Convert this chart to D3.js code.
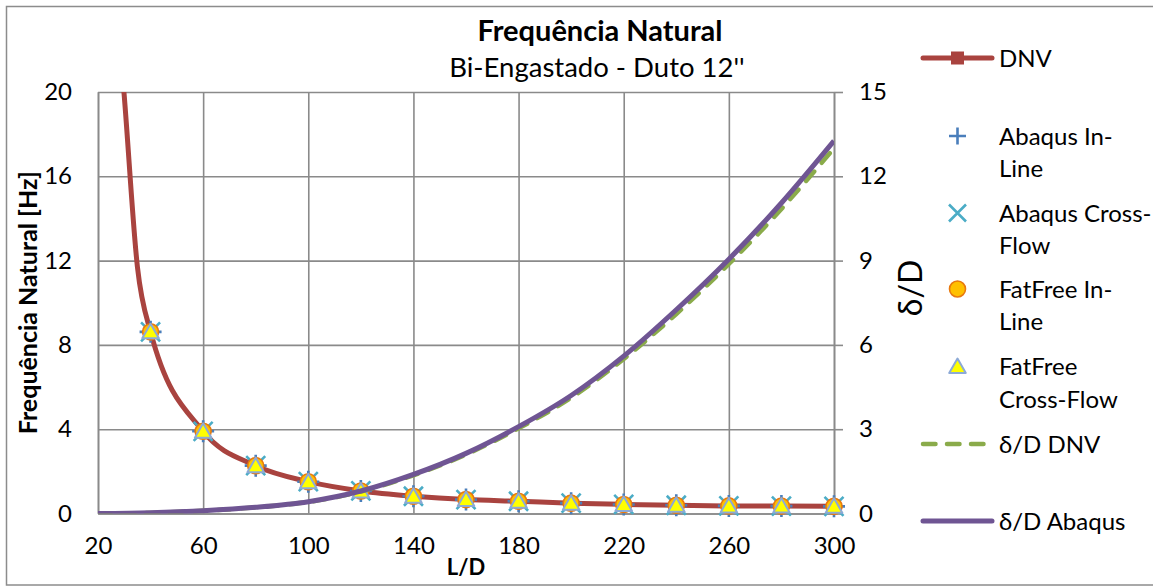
<!DOCTYPE html>
<html>
<head>
<meta charset="utf-8">
<script src="https://cdn.jsdelivr.net/npm/d3@7"></script>
<style>
  body { margin: 0; background: #fff; }
  svg { display: block; }
  text { font-family: Lato, "Open Sans", sans-serif; fill: #000; }
</style>
</head>
<body>
<svg id="chart" width="1153" height="586"></svg>
<script>
// DNV natural frequency curve [Hz] against L/D
const ldDNV = [20, 30, 35, 40, 60, 80, 100, 120, 140, 160, 180, 200, 220, 240, 260, 280, 300];
const dnvFreq = [34.0, 19.8, 11.7, 8.62, 3.90, 2.27, 1.51, 1.07, 0.82, 0.66, 0.58, 0.49, 0.43, 0.39, 0.36, 0.35, 0.34];

// δ/D curves (secondary axis) against L/D
const ldDelta = [20, 40, 60, 80, 100, 120, 140, 160, 180, 200, 220, 240, 260, 280, 300];
const deltaDNV    = [0, 0.02, 0.10, 0.22, 0.41, 0.78, 1.36, 2.10, 3.03, 4.12, 5.50, 7.10, 8.88, 10.84, 13.00];
const deltaAbaqus = [0, 0.03, 0.10, 0.22, 0.42, 0.80, 1.39, 2.14, 3.09, 4.20, 5.60, 7.25, 9.05, 11.05, 13.26];

// point series
const ldPoints = [40, 60, 80, 100, 120, 140, 160, 180, 200, 220, 240, 260, 280, 300];
const abaqusInLine     = [8.62, 3.90, 2.27, 1.51, 1.07, 0.82, 0.66, 0.58, 0.49, 0.43, 0.39, 0.36, 0.35, 0.34];
const abaqusCrossFlow  = [8.62, 3.90, 2.27, 1.51, 1.07, 0.82, 0.66, 0.58, 0.49, 0.43, 0.39, 0.36, 0.35, 0.34];
const fatfreeInLine    = [8.62, 3.90, 2.27, 1.51, 1.07, 0.82, 0.66, 0.58, 0.49, 0.43, 0.39, 0.36, 0.35, 0.34];
const fatfreeCrossFlow = [8.62, 3.90, 2.27, 1.51, 1.07, 0.82, 0.66, 0.58, 0.49, 0.43, 0.39, 0.36, 0.35, 0.34];
// DNV markers sit at the same L/D as the point series
const dnvMarkers = [8.62, 3.90, 2.27, 1.51, 1.07, 0.82, 0.66, 0.58, 0.49, 0.43, 0.39, 0.36, 0.35, 0.34];

// axis ticks
const xTicks = [20, 60, 100, 140, 180, 220, 260, 300];
const freqTicks = [0, 4, 8, 12, 16, 20];
const deltaTicks = [0, 3, 6, 9, 12, 15];

// texts
const titleText = "Frequência Natural";
const subtitleText = "Bi-Engastado - Duto 12''";
const xTitle = "L/D";
const yLeftTitle = "Frequência Natural [Hz]";
const yRightTitle = "δ/D";

const svg = d3.select("#chart");
const W = 1153, H = 586;
const plot = { left: 98, right: 834, top: 92, bottom: 513.5 };
const gridColor = "#8a8a8a";

const x = d3.scaleLinear().domain([20, 300]).range([plot.left, plot.right]);
const yL = d3.scaleLinear().domain([0, 20]).range([plot.bottom, plot.top]);
const yR = d3.scaleLinear().domain([0, 15]).range([plot.bottom, plot.top]);

svg.append("rect").attr("width", W).attr("height", H).attr("fill", "#fff");
// chart frame
svg.append("rect")
  .attr("x", 6.5).attr("y", 6.5).attr("width", W).attr("height", 578.5)
  .attr("fill", "none").attr("stroke", "#8c8c8c").attr("stroke-width", 1.5);

svg.append("defs").append("clipPath").attr("id", "plotClip")
  .append("rect")
  .attr("x", plot.left).attr("y", plot.top)
  .attr("width", plot.right - plot.left).attr("height", plot.bottom - plot.top);

const tickFont = 24;

// left axis with horizontal gridlines
const gLeft = svg.append("g").attr("transform", `translate(${plot.left},0)`)
  .call(d3.axisLeft(yL).tickValues(freqTicks).tickSize(-(plot.right - plot.left)).tickSizeOuter(0).tickPadding(26));
// bottom axis with vertical gridlines
const gBottom = svg.append("g").attr("transform", `translate(0,${plot.bottom})`)
  .call(d3.axisBottom(x).tickValues(xTicks).tickSize(-(plot.bottom - plot.top)).tickSizeOuter(0).tickPadding(23));
// right axis
const gRight = svg.append("g").attr("transform", `translate(${plot.right},0)`)
  .call(d3.axisRight(yR).tickValues(deltaTicks).tickSize(9).tickSizeOuter(0).tickPadding(16));

[gLeft, gBottom, gRight].forEach(g => {
  g.selectAll("line").attr("stroke", gridColor).attr("stroke-width", 1.6);
  g.select(".domain").attr("stroke", gridColor).attr("stroke-width", 1.6);
  g.selectAll("text").attr("font-size", tickFont).attr("font-family", "Lato, sans-serif").attr("fill", "#000");
});

// curves
const lineFreq = d3.line().x(d => x(d[0])).y(d => yL(d[1])).curve(d3.curveMonotoneX);
const lineDelta = d3.line().x(d => x(d[0])).y(d => yR(d[1])).curve(d3.curveMonotoneX);

const red = "#A9433F", purple = "#6F5593", green = "#8AAB4A";
const plusColor = "#4A7EBB", xColor = "#4BACC6";
const circFill = "#FFC000", circStroke = "#E8790F";
const triFill = "#FFFF00", triStroke = "#8DAAD6";

svg.append("g").attr("clip-path", "url(#plotClip)")
  .append("path")
  .datum(ldDNV.map((l, i) => [l, dnvFreq[i]]))
  .attr("d", lineFreq)
  .attr("fill", "none").attr("stroke", red).attr("stroke-width", 5).attr("stroke-linejoin", "round");

// marker shapes
function drawSquare(g, cx, cy) {
  const s = 6;
  g.append("rect").attr("x", cx - s).attr("y", cy - s).attr("width", 2 * s).attr("height", 2 * s)
    .attr("fill", red).attr("stroke", red).attr("stroke-width", 1);
}
function drawPlus(g, cx, cy, s) {
  g.append("path").attr("d", `M${cx - s},${cy}H${cx + s}M${cx},${cy - s}V${cy + s}`)
    .attr("stroke", plusColor).attr("stroke-width", 2.6).attr("fill", "none");
}
function drawX(g, cx, cy, s) {
  g.append("path").attr("d", `M${cx - s},${cy - s}L${cx + s},${cy + s}M${cx - s},${cy + s}L${cx + s},${cy - s}`)
    .attr("stroke", xColor).attr("stroke-width", 2.6).attr("fill", "none");
}
function drawCircle(g, cx, cy) {
  g.append("circle").attr("cx", cx).attr("cy", cy).attr("r", 8)
    .attr("fill", circFill).attr("stroke", circStroke).attr("stroke-width", 1.6);
}
function drawTriangle(g, cx, cy) {
  g.append("path").attr("d", `M${cx},${cy - 8}L${cx + 8.3},${cy + 6.5}L${cx - 8.3},${cy + 6.5}Z`)
    .attr("fill", triFill).attr("stroke", triStroke).attr("stroke-width", 2).attr("stroke-linejoin", "round");
}

const mG = svg.append("g");
ldPoints.forEach((l, i) => drawSquare(mG, x(l), yL(dnvMarkers[i])));
ldPoints.forEach((l, i) => drawPlus(mG, x(l), yL(abaqusInLine[i]), 11));
ldPoints.forEach((l, i) => drawX(mG, x(l), yL(abaqusCrossFlow[i]), 9.5));
ldPoints.forEach((l, i) => drawCircle(mG, x(l), yL(fatfreeInLine[i])));
ldPoints.forEach((l, i) => drawTriangle(mG, x(l), yL(fatfreeCrossFlow[i])));

// secondary axis curves
const clipG2 = svg.append("g").attr("clip-path", "url(#plotClip)");
clipG2.append("path")
  .datum(ldDelta.map((l, i) => [l, deltaDNV[i]]))
  .attr("d", lineDelta)
  .attr("fill", "none").attr("stroke", green).attr("stroke-width", 4.5)
  .attr("stroke-dasharray", "12.5,11.5").attr("stroke-linecap", "round");
clipG2.append("path")
  .datum(ldDelta.map((l, i) => [l, deltaAbaqus[i]]))
  .attr("d", lineDelta)
  .attr("fill", "none").attr("stroke", purple).attr("stroke-width", 5);

// titles
svg.append("text").attr("x", 600).attr("y", 41).attr("text-anchor", "middle")
  .attr("font-size", 29).attr("font-weight", "bold").text(titleText);
svg.append("text").attr("x", 597).attr("y", 77).attr("text-anchor", "middle")
  .attr("font-size", 27.5).text(subtitleText);
svg.append("text").attr("x", (plot.left + plot.right) / 2).attr("y", 575).attr("text-anchor", "middle")
  .attr("font-size", 22).attr("font-weight", "bold").text(xTitle);
svg.append("text").attr("transform", `translate(37,${(plot.top + plot.bottom) / 2}) rotate(-90)`)
  .attr("text-anchor", "middle").attr("font-size", 25).attr("font-weight", "bold").text(yLeftTitle);
svg.append("text").attr("transform", `translate(922,288) rotate(-90)`)
  .attr("text-anchor", "middle").attr("font-size", 32).text(yRightTitle);

// legend
const legend = [
  { lines: ["DNV"], y: 58, kind: "dnv" },
  { lines: ["Abaqus In-", "Line"], y: 136, kind: "plus" },
  { lines: ["Abaqus Cross-", "Flow"], y: 213, kind: "x" },
  { lines: ["FatFree In-", "Line"], y: 289, kind: "circle" },
  { lines: ["FatFree", "Cross-Flow"], y: 366.5, kind: "triangle" },
  { lines: ["δ/D DNV"], y: 444, kind: "dash" },
  { lines: ["δ/D Abaqus"], y: 521, kind: "solid" }
];
const lg = svg.append("g");
const lx0 = 923, lx1 = 992, lcx = 957.5;
legend.forEach(item => {
  if (item.kind === "dnv") {
    lg.append("line").attr("x1", lx0).attr("x2", lx1).attr("y1", item.y).attr("y2", item.y)
      .attr("stroke", red).attr("stroke-width", 5).attr("stroke-linecap", "round");
    drawSquare(lg, lcx, item.y);
  } else if (item.kind === "plus") drawPlus(lg, lcx, item.y, 8.5);
  else if (item.kind === "x") drawX(lg, lcx, item.y, 8.5);
  else if (item.kind === "circle") drawCircle(lg, lcx, item.y);
  else if (item.kind === "triangle") drawTriangle(lg, lcx, item.y);
  else if (item.kind === "dash") {
    lg.append("line").attr("x1", lx0).attr("x2", 984).attr("y1", item.y).attr("y2", item.y)
      .attr("stroke", green).attr("stroke-width", 4.5).attr("stroke-linecap", "round")
      .attr("stroke-dasharray", "12.5,11.5");
  } else if (item.kind === "solid") {
    lg.append("line").attr("x1", lx0).attr("x2", lx1).attr("y1", item.y).attr("y2", item.y)
      .attr("stroke", purple).attr("stroke-width", 5).attr("stroke-linecap", "round");
  }
  item.lines.forEach((t, k) => {
    lg.append("text").attr("x", 999).attr("y", item.y + 8.5 + k * 32.5)
      .attr("font-size", 24).text(t);
  });
});
</script>
</body>
</html>
